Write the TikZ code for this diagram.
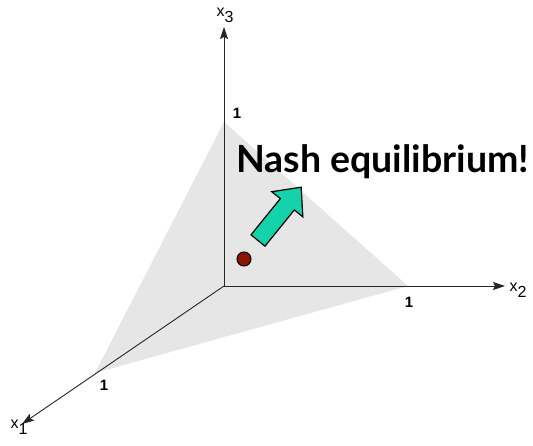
\documentclass[tikz,border=0pt]{standalone}
\usepackage{fontspec}
\setmainfont{Liberation Sans}
\newfontfamily\titlefont{Lato}
\usetikzlibrary{arrows.meta}
\definecolor{planegray}{HTML}{E6E6E6}
\definecolor{teal}{RGB}{20,210,170}
\definecolor{dotred}{HTML}{8B1500}
\tikzset{
  axis/.style={line width=0.9pt, draw=black!85, -{Stealth[length=12pt,width=8pt,inset=2pt]}},
  axlabel/.style={font=\fontsize{16}{17}\selectfont, inner sep=0pt},
  onelabel/.style={font=\bfseries\fontsize{15}{16}\selectfont, inner sep=0pt},
}
\begin{document}
\begin{tikzpicture}[x=1pt,y=-1pt]
\useasboundingbox (0,0) rectangle (533,446);
\coordinate (O) at (224,286);
\coordinate (E3) at (224,27);
\coordinate (E2) at (505,286);
\coordinate (E1) at (22,424);
\coordinate (V3) at (224,122);
\coordinate (V2) at (408,286);
\coordinate (V1) at (95,373);
\fill[planegray] (V1) -- (V2) -- (V3) -- cycle;
\draw[axis] (O) -- (E3);
\draw[axis] (O) -- (E2);
\draw[axis] (O) -- (E1);
\node[axlabel] (l3) at (225,15) {x\raisebox{-6pt}{3}};
\node[axlabel] (l2) at (518,290) {x\raisebox{-6pt}{2}};
\node[axlabel] (l1) at (19,427) {x\raisebox{-6pt}{1}};
\node[onelabel] (o3) at (237,113) {1};
\node[onelabel] (o2) at (409,302) {1};
\node[onelabel] (o1) at (104,385) {1};
\node[anchor=base west, inner sep=0pt, font=\titlefont\bfseries\fontsize{37.5}{40}\selectfont] (nash) at (236,173) {Nash equilibrium!};
\node[circle, draw=black, line width=1pt, fill=dotred, minimum size=14pt, inner sep=0pt] (dot) at (244,259) {};
\begin{scope}[shift={(258,240.5)}, rotate=51]
\draw[fill=teal, line width=1.2pt, line join=miter]
  (0,-9) -- (46.6,-9) -- (46.6,-20) -- (68.6,0) -- (46.6,20) -- (46.6,9) -- (0,9) -- cycle;
\end{scope}
\end{tikzpicture}
\end{document}
